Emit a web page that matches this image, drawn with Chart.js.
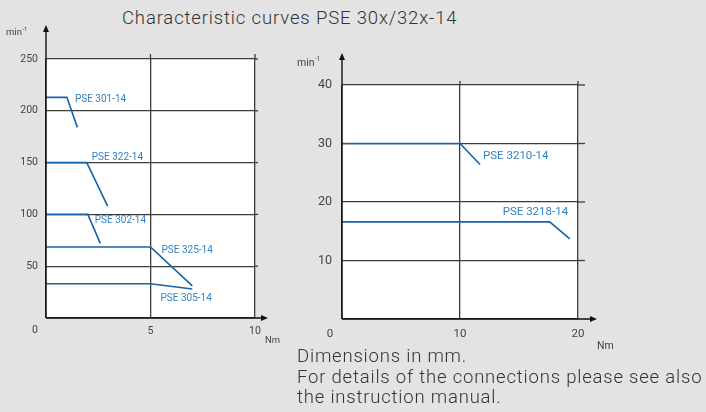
<!DOCTYPE html>
<html>
<head>
<meta charset="utf-8">
<script src="https://cdn.jsdelivr.net/npm/chart.js@4.4.0/dist/chart.umd.min.js"></script>
<style>
body { margin: 0; width: 706px; height: 412px; overflow: hidden; position: relative; background: #e3e3e3; font-family: Roboto, sans-serif; }
canvas { position: absolute; left: 0; top: 0; }
#title { position: absolute; left: 122px; top: 7px; font-size: 18.5px; font-weight: 300; letter-spacing: 0.85px; color: #333; white-space: nowrap; }
#note { position: absolute; left: 297px; top: 346px; font-size: 18.5px; font-weight: 300; letter-spacing: 0.8px; color: #333; line-height: 20.5px; white-space: nowrap; }
</style>
</head>
<body>
<div id="title">Characteristic curves PSE 30x/32x-14</div>
<canvas id="leftChart" width="706" height="412"></canvas>
<canvas id="rightChart" width="706" height="412"></canvas>
<div id="note">Dimensions in mm.<br>For details of the connections please see also<br>the instruction manual.</div>
<script>
// curves: torque (Nm) -> speed (min-1)
const leftNames = ['PSE 301-14', 'PSE 322-14', 'PSE 302-14', 'PSE 325-14', 'PSE 305-14'];
const leftTorque = [[0, 1.0, 1.5], [0, 1.95, 2.95], [0, 2, 2.6], [0, 5, 7], [0, 5, 7]];
const leftSpeed = [[213, 213, 184], [150, 150, 108], [100, 100, 72], [68.5, 68.5, 31], [33, 33, 28]];
const leftXTicks = [0, 5, 10];
const leftYTicks = [0, 50, 100, 150, 200, 250];

const rightNames = ['PSE 3210-14', 'PSE 3218-14'];
const rightTorque = [[0, 10, 11.7], [0, 17.6, 19.3]];
const rightSpeed = [[30, 30, 26.4], [16.6, 16.6, 13.7]];
const rightXTicks = [0, 10, 20];
const rightYTicks = [0, 10, 20, 30, 40];

const lineBlue = '#1762ab';
const textBlue = '#3282c6';
const gridCol = '#3c3c3c';

// Plotfläche weiss, Pfeile, Beschriftungen
const decor = {
    id: 'decor',
    beforeDraw(chart, args, o) {
        const { ctx, chartArea: a } = chart;
        ctx.save();
        ctx.fillStyle = '#fff';
        ctx.fillRect(a.left, a.top, a.right - a.left, a.bottom - a.top);
        ctx.restore();
    },
    afterDraw(chart, args, o) {
        const { ctx, chartArea: a, scales } = chart;
        ctx.save();
        // Gitterlinien etwas überstehen lassen
        ctx.strokeStyle = gridCol;
        ctx.lineWidth = 1.3;
        scales.x.ticks.forEach(t => {
            if (t.value === 0) return;
            const px = scales.x.getPixelForValue(t.value);
            ctx.beginPath(); ctx.moveTo(px, a.top - o.extTop); ctx.lineTo(px, a.top); ctx.stroke();
        });
        scales.y.ticks.forEach(t => {
            if (t.value === 0) return;
            const py = scales.y.getPixelForValue(t.value);
            ctx.beginPath(); ctx.moveTo(a.right, py); ctx.lineTo(a.right + o.extRight, py); ctx.stroke();
        });
        // Achsen mit Pfeil
        ctx.strokeStyle = '#111';
        ctx.fillStyle = '#111';
        ctx.lineWidth = 1.4;
        const topY = a.top + o.arrowTop;
        const rightX = a.right + o.arrowRight;
        ctx.beginPath(); ctx.moveTo(a.left, a.bottom); ctx.lineTo(a.left, topY + 3); ctx.stroke();
        ctx.beginPath(); ctx.moveTo(a.left, a.bottom); ctx.lineTo(rightX - 3, a.bottom); ctx.stroke();
        ctx.beginPath(); ctx.moveTo(a.left, topY); ctx.lineTo(a.left - 3, topY + 7); ctx.lineTo(a.left + 3, topY + 7); ctx.closePath(); ctx.fill();
        ctx.beginPath(); ctx.moveTo(rightX, a.bottom); ctx.lineTo(rightX - 7, a.bottom - 3); ctx.lineTo(rightX - 7, a.bottom + 3); ctx.closePath(); ctx.fill();

        // Einheiten
        ctx.fillStyle = '#444';
        ctx.textBaseline = 'middle';
        ctx.textAlign = 'left';
        ctx.font = o.unitSize + 'px Roboto';
        const mx = a.left + o.minPos[0], my = a.top + o.minPos[1];
        ctx.fillText('min', mx, my);
        const w = ctx.measureText('min').width;
        ctx.font = (o.unitSize * 0.6) + 'px Roboto';
        ctx.fillText('-1', mx + w + 0.5, my - o.unitSize * 0.35);
        ctx.font = o.unitSize + 'px Roboto';
        ctx.fillText('Nm', a.right + o.nmPos[0], a.bottom + o.nmPos[1]);
        ctx.textAlign = 'center';
        ctx.font = o.zeroSize + 'px Roboto';
        ctx.fillText('0', a.left + o.zeroPos[0], a.bottom + o.zeroPos[1]);

        // Kurvennamen am Knickpunkt
        ctx.fillStyle = textBlue;
        ctx.textAlign = 'left';
        ctx.font = o.labelSize + 'px Roboto';
        chart.data.datasets.forEach((ds, i) => {
            const knee = ds.data[1];
            const px = scales.x.getPixelForValue(knee.x) + o.offsets[i][0];
            const py = scales.y.getPixelForValue(knee.y) + o.offsets[i][1];
            ctx.fillText(ds.label, px, py);
        });
        ctx.restore();
    }
};

function makeChart(id, names, torque, speed, xTicks, yTicks, box, deco, fonts) {
    const datasets = names.map((n, i) => ({
        label: n,
        data: torque[i].map((t, j) => ({ x: t, y: speed[i][j] })),
        borderColor: lineBlue,
        borderWidth: 1.6,
        pointRadius: 0,
        fill: false,
        tension: 0
    }));
    return new Chart(document.getElementById(id), {
        type: 'line',
        data: { datasets },
        plugins: [decor],
        options: {
            responsive: false,
            animation: false,
            events: [],
            layout: { padding: { left: 0, top: box.top, right: 706 - box.right, bottom: 0 } },
            plugins: { legend: { display: false }, tooltip: { enabled: false }, decor: deco },
            scales: {
                x: {
                    type: 'linear',
                    min: xTicks[0],
                    max: xTicks[xTicks.length - 1],
                    afterBuildTicks: s => { s.ticks = xTicks.map(v => ({ value: v })); },
                    afterFit: s => { s.height = 412 - box.bottom; },
                    grid: { color: gridCol, lineWidth: 1.3, drawTicks: false },
                    border: { display: false },
                    ticks: {
                        padding: fonts.xPad,
                        color: '#444',
                        font: { family: 'Roboto', size: fonts.x },
                        maxRotation: 0,
                        callback: v => v === 0 ? '' : v
                    }
                },
                y: {
                    type: 'linear',
                    min: yTicks[0],
                    max: yTicks[yTicks.length - 1],
                    afterBuildTicks: s => { s.ticks = yTicks.map(v => ({ value: v })); },
                    afterFit: s => { s.width = box.left; },
                    grid: { color: gridCol, lineWidth: 1.3, drawTicks: false },
                    border: { display: false },
                    ticks: {
                        padding: fonts.yPad,
                        color: '#444',
                        font: { family: 'Roboto', size: fonts.y },
                        callback: v => v === 0 ? '' : v
                    }
                }
            }
        }
    });
}

makeChart('leftChart', leftNames, leftTorque, leftSpeed, leftXTicks, leftYTicks,
    { left: 46, top: 59, right: 255, bottom: 318 },
    {
        extTop: 5, extRight: 3, arrowTop: -34, arrowRight: 13,
        unitSize: 9.5, minPos: [-40, -26], nmPos: [10, 23],
        zeroSize: 10.5, zeroPos: [-11, 12],
        labelSize: 10,
        offsets: [[8, 2], [5, -5], [7, 6], [11, 3], [10, 14.5]]
    },
    { x: 10.5, y: 10.5, xPad: 7, yPad: 8 });

makeChart('rightChart', rightNames, rightTorque, rightSpeed, rightXTicks, rightYTicks,
    { left: 342, top: 85, right: 578, bottom: 319 },
    {
        extTop: 4, extRight: 7, arrowTop: -32, arrowRight: 19,
        unitSize: 10.5, minPos: [-45, -22], nmPos: [19, 27],
        zeroSize: 11.5, zeroPos: [-12, 15],
        labelSize: 11.5,
        offsets: [[23, 13], [-47, -10]]
    },
    { x: 11.5, y: 12.5, xPad: 8, yPad: 10 });
</script>
</body>
</html>
